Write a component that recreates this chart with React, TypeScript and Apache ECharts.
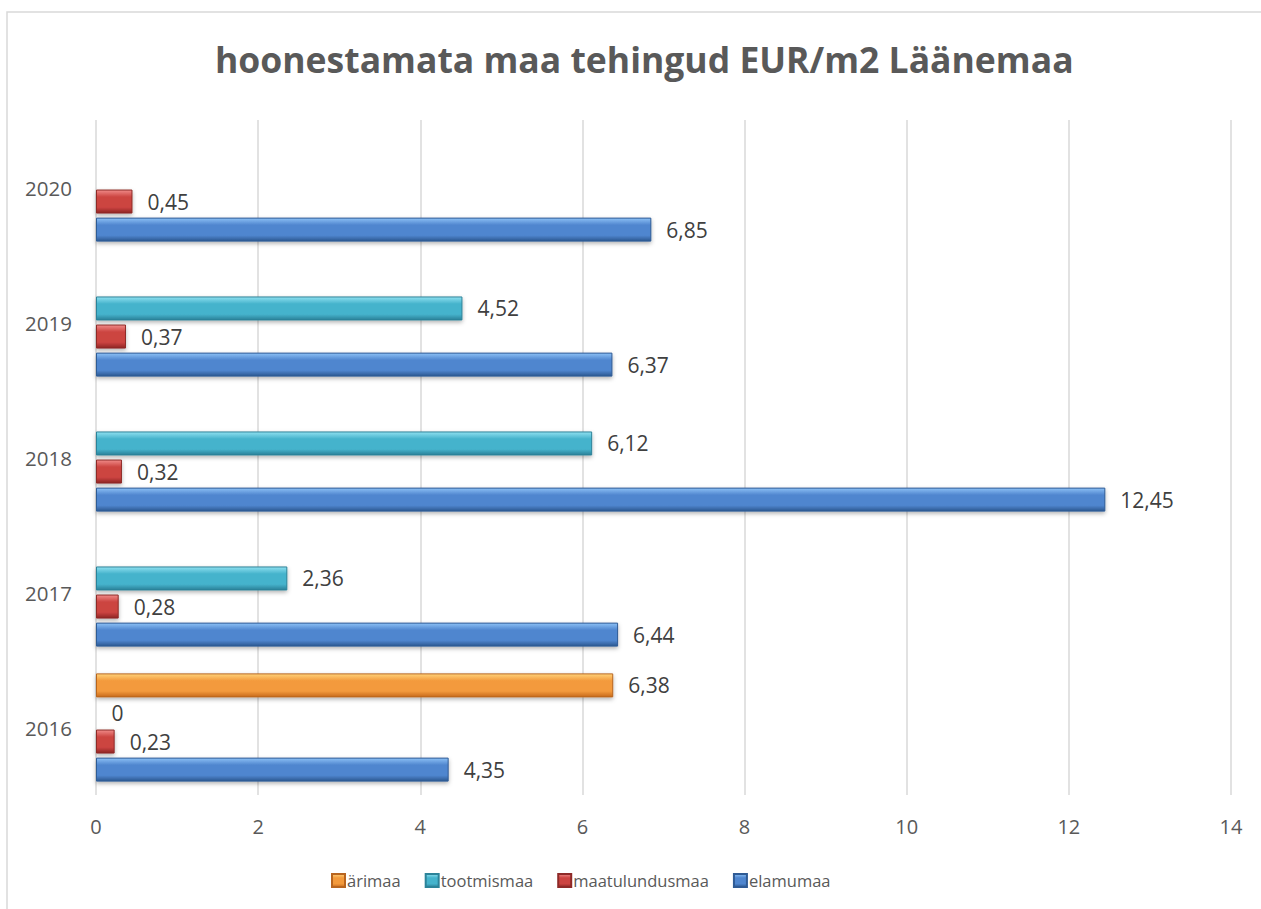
import React, { useEffect, useRef } from "react";
import * as echarts from "echarts";

const years = ["2016", "2017", "2018", "2019", "2020"];
const elamumaa = [4.35, 6.44, 12.45, 6.37, 6.85];
const maatulundusmaa = [0.23, 0.28, 0.32, 0.37, 0.45];
const tootmismaa: (number | null)[] = [0, 2.36, 6.12, 4.52, null];
const arimaa: (number | null)[] = [6.38, null, null, null, null];
const xTicks = { min: 0, max: 14, interval: 2 };

const FONT = "'Open Sans', 'Noto Sans', sans-serif";

function grad(top: string, mid: string, bottom: string) {
  return new echarts.graphic.LinearGradient(0, 0, 0, 1, [
    { offset: 0, color: top },
    { offset: 0.3, color: mid },
    { offset: 0.75, color: mid },
    { offset: 1, color: bottom },
  ]);
}

const shadow = { shadowColor: "rgba(0,0,0,0.3)", shadowBlur: 4, shadowOffsetY: 2 };

export default function App() {
  const ref = useRef<HTMLDivElement>(null);
  useEffect(() => {
    document.body.style.margin = "0";
    const chart = echarts.init(ref.current!, undefined, { renderer: "svg" });
    const label = {
      show: true,
      position: "right" as const,
      distance: 15,
      color: "#404040",
      fontSize: 21,
      fontFamily: FONT,
      formatter: (p: any) => String(p.value).replace(".", ","),
    };
    const common = {
      type: "bar" as const,
      barWidth: 24,
      barGap: "17%",
      label,
    };
    chart.setOption({
      animation: false,
      backgroundColor: "#ffffff",
      textStyle: { fontFamily: FONT },
      title: {
        text: "hoonestamata maa tehingud EUR/m2 Läänemaa",
        left: 210,
        top: 36,
        textStyle: { fontSize: 35.5, fontWeight: "bold", color: "#595959", fontFamily: FONT },
      },
      graphic: [
        {
          type: "rect",
          shape: { x: 7, y: 12, width: 1300, height: 1000 },
          style: { fill: "none", stroke: "#d9d9d9", lineWidth: 1.5 },
          silent: true,
          z: 0,
        },
      ],
      legend: {
        bottom: 15,
        left: 326,
        data: ["ärimaa", "tootmismaa", "maatulundusmaa", "elamumaa"],
        icon: "rect",
        itemWidth: 13,
        itemHeight: 13,
        itemGap: 24,
        textStyle: { fontSize: 16.5, color: "#595959", fontFamily: FONT, padding: [0, 0, 0, -3] },
      },
      grid: { left: 96, right: 30, top: 120, bottom: 114, containLabel: false },
      xAxis: {
        type: "value",
        min: xTicks.min,
        max: xTicks.max,
        interval: xTicks.interval,
        axisLine: { show: false },
        axisTick: { show: false },
        axisLabel: { color: "#595959", fontSize: 20, margin: 21, fontFamily: FONT },
        splitLine: { lineStyle: { color: "#d9d9d9", width: 1.5 } },
      },
      yAxis: {
        type: "category",
        data: years,
        axisLine: { show: false },
        axisTick: { show: false },
        axisLabel: { color: "#595959", fontSize: 20.5, margin: 24, fontFamily: FONT },
      },
      series: [
        {
          ...common,
          name: "ärimaa",
          data: arimaa,
          itemStyle: {
            color: grad("#ffd27a", "#f39a3c", "#c76a1c"),
            borderColor: "#b8651f",
            borderWidth: 1,
            ...shadow,
          },
        },
        {
          ...common,
          name: "tootmismaa",
          data: tootmismaa,
          itemStyle: {
            color: grad("#8fe0f0", "#45b3cc", "#2a8098"),
            borderColor: "#2c8399",
            borderWidth: 1,
            ...shadow,
          },
        },
        {
          ...common,
          name: "maatulundusmaa",
          data: maatulundusmaa,
          itemStyle: {
            color: grad("#f08a88", "#cc4441", "#8e2624"),
            borderColor: "#8e2a28",
            borderWidth: 1,
            ...shadow,
          },
        },
        {
          ...common,
          name: "elamumaa",
          data: elamumaa,
          itemStyle: {
            color: grad("#8cc0f5", "#4f86cf", "#2c5890"),
            borderColor: "#2f5b95",
            borderWidth: 1,
            ...shadow,
          },
        },
      ],
    });
    return () => chart.dispose();
  }, []);
  return <div ref={ref} style={{ width: 1261, height: 909 }} />;
}
